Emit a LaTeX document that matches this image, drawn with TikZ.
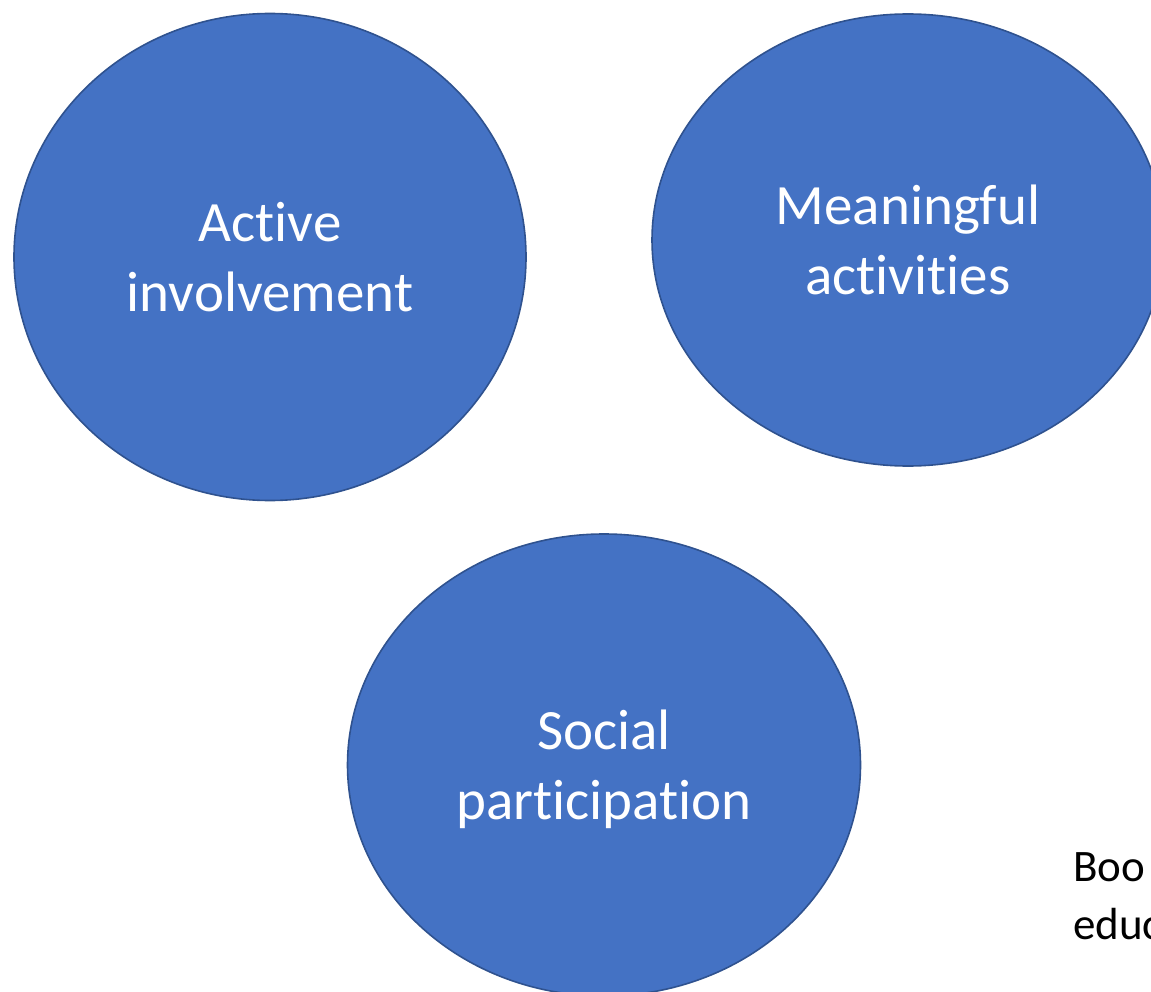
\documentclass[tikz,border=0pt]{standalone}
\usepackage{fontspec}
\setmainfont{Carlito}[Ligatures=NoCommon]
\usetikzlibrary{shapes.geometric}
\definecolor{bubblefill}{HTML}{4472C4}
\definecolor{bubbleedge}{HTML}{2F528F}
\tikzset{
  bubble/.style={ellipse, draw=bubbleedge, fill=bubblefill, line width=1.6pt,
    inner sep=0pt, text=white, align=center,
    font=\fontsize{57}{70}\selectfont},
  note/.style={anchor=north west, inner sep=0pt, align=left,
    font=\fontsize{45}{58}\selectfont}
}
\begin{document}
\begin{tikzpicture}[x=1pt,y=-1pt]
  \useasboundingbox (0,0) rectangle (1151,992);
  \node[bubble, minimum width=512pt, minimum height=487pt] (active) at (270,257)
    {Active\\involvement};
  \node[bubble, minimum width=512pt, minimum height=452pt] (meaning) at (908,240)
    {Meaningful\\activities};
  \node[bubble, minimum width=513pt, minimum height=462pt, text depth=0pt] (social) at (604,765)
    {Social\\participation};
  \node[note] (book) at (1073,852) {Boo\\educ};
\end{tikzpicture}
\end{document}
